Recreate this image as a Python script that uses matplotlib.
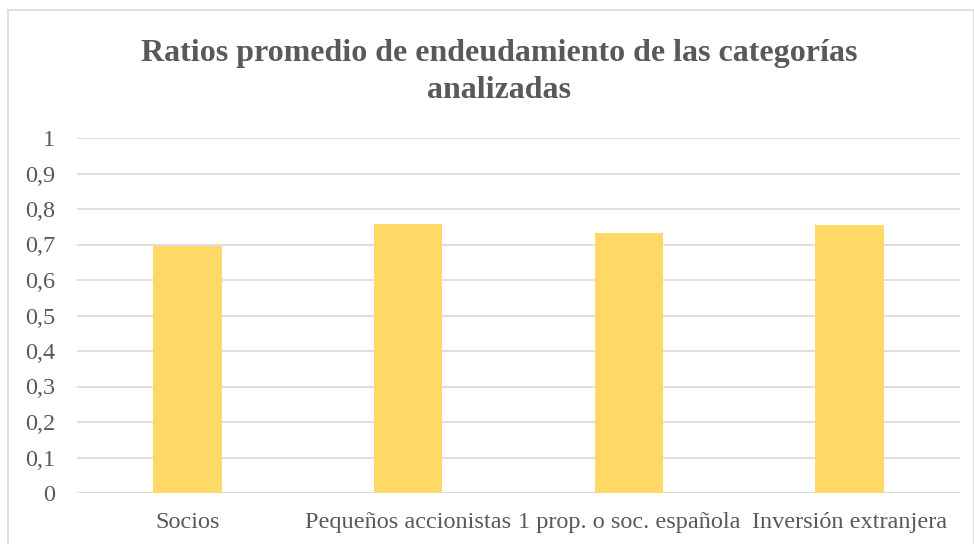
import matplotlib
matplotlib.use("Agg")
import matplotlib.pyplot as plt
from matplotlib.patches import Rectangle

categories = ["Socios", "Pequeños accionistas", "1 prop. o soc. española", "Inversión extranjera"]
values = [0.696, 0.758, 0.733, 0.754]
yticks = [0, 0.1, 0.2, 0.3, 0.4, 0.5, 0.6, 0.7, 0.8, 0.9, 1.0]
ytick_labels = ["0", "0,1", "0,2", "0,3", "0,4", "0,5", "0,6", "0,7", "0,8", "0,9", "1"]
title = "Ratios promedio de endeudamiento de las categorías\nanalizadas"

plt.rcParams['font.family'] = ['Liberation Serif', 'DejaVu Serif']
W, H = 974, 544
fig = plt.figure(figsize=(W/100, H/100), dpi=100)
ax = fig.add_axes([77/W, 1-493/H, (960-77)/W, (493-138)/H])

x = list(range(len(categories)))
ax.bar(x, values, width=0.31, color="#FFD966", zorder=3)
ax.set_xlim(-0.5, len(categories)-0.5)
ax.set_ylim(0, 1)
ax.set_yticks(yticks)
ax.set_yticklabels(ytick_labels)
ax.set_xticks(x)
ax.set_xticklabels(categories)
ax.tick_params(axis='both', length=0, labelsize=17.5, colors="#595959")
ax.tick_params(axis='y', pad=15.5)
ax.tick_params(axis='x', pad=14)
ax.yaxis.grid(True, color="#D9D9D9", linewidth=1.2, zorder=0)
for s in ax.spines.values():
    s.set_visible(False)
ax.axhline(0, color="#D9D9D9", linewidth=1.2, zorder=1)

fig.text(499/W, 1-72/H, title, ha='center', va='center', fontsize=23,
         fontweight='bold', color="#595959", linespacing=1.32)

fig.patches.append(Rectangle((8/W, -0.01), (W-8)/W, 1-10/H+0.01, transform=fig.transFigure,
                             fill=False, edgecolor="#D9D9D9", linewidth=1.2))

fig.savefig("out.png", dpi=100)
